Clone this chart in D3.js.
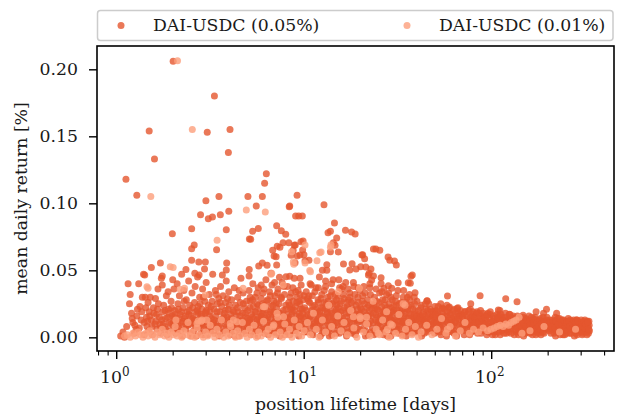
<!DOCTYPE html>
<html><head><meta charset="utf-8">
<script src="https://cdn.jsdelivr.net/npm/d3@7"></script>
<style>body{margin:0;background:#fff}svg{display:block}text{font-family:"DejaVu Serif",serif;fill:#1a1a1a}</style>
</head><body><svg id="c" width="618" height="419"></svg>
<script>
const seriesNames = ["DAI-USDC (0.05%)", "DAI-USDC (0.01%)"];
const yTicks = [0, 0.05, 0.10, 0.15, 0.20];
const xMajorTicks = [1, 10, 100];
const xMinorTicks = [0.8,0.9,2,3,4,5,6,7,8,9,20,30,40,50,60,70,80,90,200,300,400];

// DAI-USDC (0.05%): sparse upper points [lifetime days, mean daily return %]
const darkUpper = [[2.0,.206],[3.32,.180],[1.49,.154],[3.04,.153],[4.02,.155],[1.59,.133],[3.94,.138],[1.12,.118],[1.28,.106],[6.28,.122],[6.15,.115],[5.01,.105],[5.98,.105],[3.51,.105],[2.99,.102],[5.55,.098],[3.96,.094],[3.57,.0915],[2.80,.0915],[3.08,.0885],[3.24,.0898],[8.37,.098],[8.32,.0975],[9.16,.106],[9.0,.0905],[9.35,.0905],[9.77,.0905],[7.13,.0833],[7.55,.0796],[7.97,.0769],[5.69,.0813],[5.31,.0791],[3.84,.0803],[2.51,.081],[1.98,.0773],
[5.18,.0731],[5.1,.0733],[2.59,.0689],[2.51,.0661],[3.41,.0654],[6.79,.0649],[7.18,.068],[7.42,.0672],[7.71,.0706],[8.28,.0706],[8.96,.0689],[9.61,.0713],[8.73,.0649],[9.81,.0651],[6.91,.0607],[7.08,.0602],[8.52,.0612],[9.18,.0607],[1.71,.0555],[1.53,.0522],[2.51,.0575],[2.74,.0562],[2.97,.0562],[2.94,.051],[3.86,.0555],[3.84,.0502],[5.09,.0507],[5.72,.0532],[5.98,.0555],[6.34,.0537],[7.13,.054],[1.41,.0465],[1.75,.0457],[2.34,.0507],[2.61,.0478],[2.75,.0465],[3.66,.0465],[5.08,.0457],[6.65,.0478],[7.38,.0448],[8.0,.0452],[8.37,.0455],[9.5,.044],
[12.75,.099],[14.5,.0853],[13.4,.078],[13.8,.0791],[16.6,.080],[17.9,.0786],[18.7,.0771],[14.9,.0741],[9.86,.0719],[8.85,.0687],[14.3,.0706],[14.6,.0687],[13.8,.0639],[15.2,.0637],[23.4,.0659],[24.1,.0659],[25.3,.0649],[20.3,.0614],[21.0,.0587],[28.0,.0599],[28.6,.0575],[30.3,.0569],[31.0,.054],[16.2,.0547],[18.0,.0549],[17.5,.0502],[18.9,.051],[20.0,.0527],[21.3,.0525],[13.2,.0542],[12.5,.05],[13.2,.05],[8.94,.0557],[10.1,.0572],[10.6,.0575],[9.97,.0617],[9.5,.0614],[37.1,.0455],[22.0,.0465],[23.4,.0457],[20.5,.0617],
[22.7,.051],[22.2,.0478],[22.9,.0428],[25.7,.0445],[28.1,.0385],[26.6,.0366],[29.3,.0366],[31.7,.0407],[37.7,.0465],[35.9,.0407],[36.8,.0403],[39.0,.0333],[45.1,.0271],[58.1,.0308],[77.3,.0251],[86.7,.031],[118.8,.0288],[136.5,.0266],[172.5,.0191],[196,.0209],[189,.0179],[222,.0179],[284,.0129],[324,.0114],[110.5,.0201],[65.5,.0216],[54.6,.0219],[49.9,.0194],[41.3,.0157],[45.3,.0273],[53.5,.0251],[59.5,.0226],[108.5,.0204],[124,.0172],[147,.0164]];

// DAI-USDC (0.05%): dense band, short lifetimes (1 - 5 days)
const darkBandShort = [[1.05,.001],[1.08,.004],[1.1,.0],[1.13,.008],[1.15,.04],[1.17,.025],[1.18,.032],[1.2,.018],[1.22,.011],[1.24,.003],[1.27,.006],[1.29,.021],[1.31,.04],[1.33,.023],[1.35,.013],[1.37,.03],[1.39,.047],[1.4,.002],[1.42,.030],[1.44,.015],[1.45,.008],[1.47,.026],[1.48,.005],[1.49,.019],
[1.51,.030],[1.53,.013],[1.55,.002],[1.57,.022],[1.6,.010],[1.61,.029],[1.63,.017],[1.64,.006],[1.66,.036],[1.67,.025],[1.7,.010],[1.72,.003],[1.73,.044],[1.75,.039],[1.76,.019],[1.78,.024],[1.8,.008],[1.82,.014],[1.84,.031],[1.86,.002],[1.88,.034],[1.89,.021],[1.91,.011],[1.93,.005],[1.95,.027],[1.97,.016],[1.99,.043],[2.0,.009],[2.02,.036],[2.04,.02],[2.06,.003],[2.08,.013],[2.1,.040],[2.12,.025],[2.14,.007],[2.16,.031],[2.18,.017],[2.2,.011],[2.22,.047],[2.24,.001],[2.26,.022],[2.28,.035],[2.3,.014],[2.33,.006],[2.35,.028],[2.37,.019],[2.4,.009],[2.42,.042],[2.45,.024],[2.47,.003],
[2.5,.016],[2.52,.033],[2.55,.011],[2.57,.005],[2.6,.026],[2.62,.038],[2.64,.019],[2.66,.001],[2.68,.013],[2.7,.045],[2.72,.023],[2.75,.008],[2.77,.030],[2.8,.016],[2.82,.003],[2.85,.021],[2.87,.036],[2.9,.011],[2.92,.006],[2.95,.027],[2.97,.018],[3.0,.041],[3.02,.013],[3.05,.002],[3.08,.024],[3.1,.009],[3.12,.032],[3.15,.019],[3.18,.005],[3.2,.014],[3.23,.027],[3.25,.047],[3.28,.011],[3.3,.021],[3.33,.003],[3.36,.035],[3.38,.016],[3.41,.008],[3.44,.025],[3.47,.012],[3.5,.029],[3.52,.001],[3.55,.019],[3.58,.038],[3.6,.007],[3.63,.023],[3.66,.014],[3.69,.031],[3.72,.004],[3.75,.018],[3.78,.010],[3.81,.026],[3.84,.042],[3.87,.015],[3.9,.006],[3.93,.021],[3.96,.034],[4.0,.011],[4.03,.002],[4.06,.017],[4.1,.028],[4.13,.008],[4.16,.020],[4.2,.013],[4.24,.037],[4.27,.004],[4.3,.024],[4.34,.016],[4.38,.009],[4.42,.030],[4.45,.019],[4.49,.001],[4.52,.012],[4.56,.026],[4.6,.044],[4.64,.007],[4.68,.018],[4.72,.033],[4.76,.011],[4.8,.022],[4.84,.003],[4.88,.015],[4.92,.027],[4.96,.009]];

// DAI-USDC (0.05%): dense band, 5 - 20 days
const darkBandMid = [[5.0,.020],[5.04,.006],[5.08,.035],[5.12,.013],[5.16,.027],[5.2,.002],[5.24,.017],[5.28,.009],[5.32,.040],[5.36,.023],[5.4,.014],[5.44,.004],[5.48,.030],[5.52,.019],[5.56,.010],[5.6,.025],[5.64,.001],[5.68,.037],[5.72,.015],[5.76,.007],[5.8,.021],[5.85,.012],[5.9,.029],[5.94,.004],[5.98,.018],[6.02,.033],[6.07,.010],[6.11,.024],[6.16,.015],[6.2,.006],[6.25,.043],[6.3,.020],[6.34,.012],[6.39,.028],[6.44,.002],[6.48,.017],[6.53,.034],[6.58,.008],[6.63,.023],[6.68,.014],[6.73,.039],[6.78,.005],[6.83,.019],[6.88,.027],[6.93,.011],[6.98,.031],[7.03,.003],[7.08,.016],[7.13,.022],[7.18,.008],[7.24,.036],[7.29,.013],[7.34,.025],[7.4,.001],[7.45,.018],[7.51,.010],[7.56,.029],[7.62,.041],[7.67,.006],[7.73,.020],[7.79,.014],[7.85,.032],[7.91,.004],[7.97,.024],[8.03,.011],[8.09,.017],[8.15,.038],[8.21,.007],[8.27,.026],[8.33,.015],[8.4,.002],[8.46,.021],[8.52,.033],[8.59,.009],[8.65,.019],[8.72,.027],[8.79,.013],[8.85,.044],[8.92,.005],[8.99,.023],[9.06,.016],[9.13,.030],[9.2,.010],[9.27,.035],[9.34,.001],[9.41,.018],[9.48,.025],[9.55,.012],[9.63,.039],[9.7,.007],[9.77,.021],[9.85,.028],[9.92,.014],[9.98,.004],
[5.1,.011],[5.5,.008],[5.9,.016],[6.4,.009],[6.9,.019],[7.5,.005],[8.0,.013],[8.6,.022],[9.1,.008],[9.6,.016],[5.3,.028],[6.0,.025],[7.0,.012],[8.3,.01],[9.4,.027],
[10.05,.022],[10.15,.010],[10.25,.034],[10.35,.004],[10.45,.017],[10.55,.027],[10.65,.013],[10.75,.040],[10.85,.008],[10.95,.020],[11.05,.031],[11.15,.002],[11.25,.015],[11.35,.024],[11.45,.011],[11.55,.037],[11.65,.006],[11.75,.019],[11.85,.028],[11.95,.014],[12.05,.045],[12.15,.009],[12.3,.022],[12.4,.032],[12.5,.003],[12.6,.016],[12.75,.026],[12.85,.012],[13.0,.038],[13.1,.007],[13.2,.020],[13.35,.030],[13.45,.015],[13.6,.001],[13.7,.024],[13.85,.011],[14.0,.034],[14.1,.018],[14.25,.043],[14.4,.006],[14.5,.027],[14.65,.014],[14.8,.021],[14.95,.009],[15.1,.031],[15.25,.017],[15.4,.003],[15.55,.025],[15.7,.012],[15.85,.036],[16.0,.020],[16.15,.007],[16.3,.029],[16.5,.015],[16.65,.041],[16.8,.010],[17.0,.023],[17.15,.004],[17.3,.018],[17.5,.033],[17.65,.013],[17.85,.026],[18.0,.008],[18.2,.020],[18.4,.038],[18.55,.014],[18.75,.002],[18.95,.024],[19.15,.011],[19.35,.030],[19.55,.017],[19.75,.006],[19.95,.022],
[10.2,.015],[10.7,.026],[11.2,.008],[11.8,.012],[12.2,.017],[12.9,.021],[13.5,.009],[14.2,.012],[14.9,.024],[15.6,.006],[16.4,.011],[17.2,.028],[18.1,.016],[19.0,.013],[19.8,.035],[10.4,.029],[11.6,.021],[13.3,.004],[15.0,.018],[17.8,.005]];

// DAI-USDC (0.05%): dense band, 20 - 100 days
const darkBandLong = [[20.1,.014],[20.4,.027],[20.6,.006],[20.9,.019],[21.1,.033],[21.4,.010],[21.6,.022],[21.9,.002],[22.1,.016],[22.4,.037],[22.6,.012],[22.9,.025],[23.1,.007],[23.4,.018],[23.7,.030],[24.0,.013],[24.2,.003],[24.5,.021],[24.8,.009],[25.1,.026],[25.4,.016],[25.7,.040],[26.0,.005],[26.3,.019],[26.6,.011],[26.9,.024],[27.2,.014],[27.5,.032],[27.8,.001],[28.2,.017],[28.5,.008],[28.8,.022],[29.1,.013],[29.5,.028],[29.8,.004],[30.2,.018],[30.5,.010],[30.9,.024],[31.2,.015],[31.6,.035],[32.0,.006],[32.3,.020],[32.7,.012],[33.1,.026],[33.5,.002],[33.9,.016],[34.3,.009],[34.7,.021],[35.1,.014],[35.5,.030],[35.9,.005],[36.3,.018],[36.8,.011],[37.2,.024],[37.6,.003],[38.1,.015],[38.5,.008],[39.0,.020],[39.4,.013],[39.9,.027],[40.4,.006],[40.9,.017],[41.3,.010],[41.8,.022],[42.3,.001],[42.8,.014],[43.3,.019],[43.8,.008],[44.3,.025],[44.8,.012],[45.4,.004],[45.9,.017],[46.4,.010],[47.0,.021],[47.5,.015],[48.1,.006],[48.6,.019],[49.2,.011],[49.8,.023],
[20.5,.011],[21.7,.016],[22.8,.004],[23.9,.022],[25.0,.012],[26.2,.028],[27.4,.007],[28.7,.016],[30.0,.020],[31.4,.009],[32.9,.018],[34.5,.004],[36.0,.023],[37.8,.012],[39.6,.005],[41.5,.015],[43.5,.012],[45.6,.020],[47.8,.009],[49.5,.015],[22.0,.024],[24.6,.015],[27.0,.020],[29.6,.012],[33.3,.011],[38.7,.017],[44.0,.016],
[50.4,.012],[51.0,.005],[51.6,.018],[52.3,.009],[52.9,.015],[53.6,.002],[54.2,.021],[54.9,.011],[55.6,.006],[56.3,.016],[57.0,.013],[57.7,.024],[58.4,.004],[59.1,.010],[59.9,.018],[60.6,.007],[61.4,.014],[62.1,.020],[62.9,.003],[63.7,.011],[64.5,.016],[65.3,.008],[66.1,.022],[67.0,.013],[67.8,.005],[68.7,.017],[69.5,.010],[70.4,.014],[71.3,.002],[72.2,.019],[73.1,.009],[74.0,.015],[75.0,.006],[75.9,.012],[76.9,.021],[77.9,.004],[78.8,.016],[79.8,.010],[80.9,.013],[81.9,.007],[82.9,.018],[84.0,.003],[85.0,.014],[86.1,.009],[87.2,.020],[88.3,.012],[89.4,.005],[90.6,.016],[91.7,.010],[92.9,.013],[94.1,.002],[95.3,.018],[96.5,.008],[97.7,.014],[99.0,.011],
[50.7,.020],[53.0,.008],[55.2,.014],[57.4,.001],[60.0,.013],[62.5,.009],[65.0,.019],[67.5,.016],[70.0,.007],[73.5,.012],[76.5,.009],[80.0,.017],[83.5,.011],[87.0,.006],[90.0,.011],[93.5,.016],[97.0,.004],[52.0,.013],[58.0,.019],[64.0,.005],[71.0,.011],[78.0,.013],[85.5,.018],[92.0,.007],[98.5,.017]];

// DAI-USDC (0.05%): dense band, 100 - 330 days
const darkBandVeryLong = [[100.5,.009],[102,.014],[103.5,.004],[105,.011],[106.5,.017],[108,.007],[109.5,.013],[111,.002],[112.5,.010],[114,.015],[115.5,.006],[117,.012],[118.5,.018],[120,.003],[122,.009],[124,.014],[126,.006],[128,.011],[130,.016],[132,.002],[134,.008],[136,.013],[138,.005],[140,.010],[142,.015],[144,.007],[146,.012],[148,.001],[150,.009],[152,.014],[154,.005],[156,.011],[158,.016],[160,.003],[162,.008],[164,.013],[166,.006],[168,.011],[170,.015],[172,.002],[174,.009],[176,.012],[178,.005],[180,.010],[182,.014],[184,.007],[187,.011],[190,.003],[193,.009],[196,.013],[199,.006],
[101,.002],[104,.008],[107,.012],[110,.016],[113,.005],[116,.009],[119,.013],[123,.004],[127,.015],[131,.010],[135,.004],[139,.014],[143,.003],[147,.008],[151,.012],[155,.007],[159,.010],[163,.004],[167,.014],[171,.008],[175,.004],[179,.012],[183,.002],[188,.015],[192,.006],[197,.010],
[201,.008],[204,.013],[207,.003],[210,.010],[213,.006],[216,.012],[219,.001],[222,.009],[225,.014],[228,.004],[231,.011],[234,.007],[237,.013],[240,.002],[243,.009],[246,.005],[249,.012],[252,.008],[256,.014],[260,.003],[264,.010],[268,.006],[272,.012],[276,.001],[280,.009],[284,.013],[288,.005],[292,.011],[296,.007],[300,.013],[304,.002],[308,.009],[312,.005],[316,.011],[320,.007],[324,.012],[328,.003],[331,.009],
[202,.011],[208,.006],[214,.009],[220,.004],[226,.007],[232,.002],[238,.010],[244,.012],[250,.003],[258,.007],[266,.011],[274,.005],[282,.003],[290,.008],[298,.010],[306,.006],[314,.013],[322,.004],[330,.012],[218,.015],[262,.013],[302,.004],[326,.008],[332,.005]];

// DAI-USDC (0.05%): extra fill of the dense band, 2 - 10 days
const darkFillA = [[2.03,.015],[2.09,.006],[2.13,.021],[2.19,.004],[2.25,.012],[2.29,.027],[2.36,.009],[2.43,.017],[2.49,.001],[2.54,.022],[2.59,.013],[2.65,.007],[2.71,.018],[2.78,.025],[2.84,.010],[2.89,.002],[2.96,.014],[3.01,.020],[3.07,.006],[3.13,.016],[3.19,.023],[3.26,.009],[3.31,.013],[3.37,.004],[3.43,.019],[3.49,.008],[3.56,.026],[3.62,.012],[3.68,.003],[3.74,.015],[3.8,.020],[3.86,.008],[3.92,.013],[3.98,.024],[4.04,.005],[4.11,.014],[4.17,.010],[4.22,.019],[4.28,.001],[4.35,.012],[4.41,.022],[4.47,.007],[4.54,.016],[4.61,.003],[4.67,.013],[4.73,.025],[4.79,.008],[4.86,.018],[4.93,.005],[4.99,.014],
[5.06,.010],[5.14,.022],[5.22,.005],[5.3,.015],[5.38,.008],[5.46,.019],[5.54,.003],[5.62,.013],[5.7,.024],[5.78,.011],[5.87,.016],[5.96,.006],[6.05,.020],[6.13,.003],[6.22,.013],[6.32,.027],[6.41,.015],[6.5,.005],[6.6,.019],[6.7,.010],[6.8,.024],[6.9,.004],[7.0,.016],[7.1,.026],[7.21,.007],[7.32,.018],[7.42,.012],[7.53,.030],[7.64,.009],[7.75,.016],[7.86,.002],[7.98,.021],[8.1,.007],[8.22,.014],[8.35,.024],[8.47,.011],[8.6,.017],[8.73,.005],[8.86,.020],[8.99,.012],[9.13,.026],[9.26,.006],[9.4,.015],[9.54,.021],[9.68,.010],[9.83,.018],[9.95,.031],
[5.15,.030],[5.6,.033],[6.1,.036],[6.6,.031],[7.2,.033],[7.8,.038],[8.4,.030],[9.0,.034],[9.5,.032],[4.5,.035],[3.9,.029],[3.4,.032],[2.9,.030],[5.9,.039],[6.95,.041],[8.7,.037]];

// DAI-USDC (0.05%): extra fill of the dense band, 10 - 40 days
const darkFillB = [[10.1,.006],[10.3,.020],[10.5,.012],[10.6,.031],[10.8,.016],[11.0,.003],[11.1,.023],[11.3,.010],[11.4,.034],[11.5,.018],[11.7,.013],[11.9,.026],[12.0,.007],[12.1,.019],[12.3,.029],[12.45,.011],[12.55,.022],[12.7,.005],[12.8,.035],[12.95,.015],[13.05,.025],[13.15,.012],[13.3,.018],[13.4,.027],[13.55,.006],[13.65,.016],[13.8,.031],[13.9,.020],[14.05,.002],[14.15,.025],[14.3,.015],[14.45,.009],[14.6,.032],[14.7,.019],[14.85,.028],[15.0,.011],[15.15,.022],[15.3,.014],[15.45,.037],[15.6,.019],[15.75,.027],[15.9,.008],[16.05,.014],[16.2,.032],[16.35,.022],[16.55,.004],[16.7,.018],[16.9,.026],[17.05,.012],[17.25,.021],[17.4,.008],[17.55,.030],[17.75,.017],[17.9,.022],[18.05,.003],[18.25,.027],[18.45,.012],[18.65,.032],[18.85,.017],[19.05,.007],[19.25,.021],[19.45,.026],[19.65,.012],[19.85,.018],
[20.2,.021],[20.5,.031],[20.75,.013],[21.0,.025],[21.25,.005],[21.5,.017],[21.8,.028],[22.05,.010],[22.3,.020],[22.55,.032],[22.75,.016],[23.0,.021],[23.25,.011],[23.55,.024],[23.8,.005],[24.1,.017],[24.35,.027],[24.65,.010],[24.95,.020],[25.25,.033],[25.55,.008],[25.85,.023],[26.1,.015],[26.45,.002],[26.75,.018],[27.05,.028],[27.35,.012],[27.65,.022],[27.95,.009],[28.35,.025],[28.65,.014],[28.95,.030],[29.3,.019],[29.65,.007],[29.95,.023],[30.35,.013],[30.7,.027],[31.05,.006],[31.4,.020],[31.8,.012],[32.15,.025],[32.5,.016],[32.85,.008],[33.3,.021],[33.7,.030],[34.1,.012],[34.5,.018],[34.9,.026],[35.3,.007],[35.7,.021],[36.1,.014],[36.55,.028],[37.0,.017],[37.4,.009],[37.9,.021],[38.3,.013],[38.8,.025],[39.2,.004],[39.7,.016],
[10.9,.039],[11.9,.037],[13.0,.042],[14.0,.040],[15.3,.043],[16.1,.038],[17.1,.036],[18.3,.041],[19.4,.037],[20.8,.038],[22.4,.040],[24.2,.036],[26.0,.034],[28.2,.033],[31.0,.031],[33.9,.035],[36.4,.032],[38.6,.030],
[12.2,.001],[14.8,.003],[16.8,.001],[18.9,.004],[21.2,.001],[23.6,.002],[26.6,.006],[29.0,.001],[31.9,.003],[35.0,.001],[38.0,.005]];

// DAI-USDC (0.05%): extra fill of the dense band, 40 - 330 days
const darkFillC = [[40.2,.011],[40.7,.020],[41.1,.004],[41.6,.014],[42.1,.024],[42.6,.009],[43.1,.017],[43.6,.003],[44.1,.012],[44.6,.021],[45.1,.007],[45.7,.015],[46.2,.025],[46.7,.005],[47.3,.013],[47.8,.019],[48.4,.010],[48.9,.016],[49.5,.003],[50.1,.017],[50.9,.010],[51.8,.023],[52.6,.004],[53.4,.016],[54.0,.012],[54.6,.018],[55.4,.008],[56.0,.021],[56.8,.003],[57.6,.016],[58.2,.011],[59.0,.022],[59.6,.005],[60.4,.017],[61.0,.011],[61.8,.004],[62.6,.015],[63.2,.021],[64.2,.012],[65.0,.001],[65.8,.014],[66.6,.018],[67.4,.009],[68.2,.020],[69.0,.006],[69.9,.016],[70.8,.011],[71.8,.019],[72.6,.005],[73.6,.017],[74.5,.010],[75.5,.020],[76.3,.002],[77.2,.015],[78.3,.008],[79.3,.019],[80.4,.005],[81.4,.015],[82.4,.011],[83.4,.019],[84.5,.007],[85.6,.012],[86.6,.016],[87.7,.003],[88.8,.014],[89.9,.018],[91.1,.006],[92.3,.015],[93.4,.010],[94.7,.017],[95.9,.004],[97.1,.011],[98.3,.019],[99.6,.007],
[101.5,.012],[103,.016],[104.5,.002],[106,.009],[107.5,.015],[109,.004],[110.5,.011],[112,.017],[113.5,.008],[115,.013],[116.5,.003],[118,.010],[119.5,.015],[121,.006],[123,.012],[125,.017],[127,.003],[129,.008],[131,.014],[133,.006],[135,.011],[137,.016],[139,.002],[141,.008],[143,.012],[145,.005],[147,.015],[149,.010],[151,.003],[153,.008],[155,.013],[157,.004],[159,.012],[161,.009],[163,.015],[165,.002],[167,.009],[169,.005],[171,.013],[173,.007],[175,.011],[177,.003],[179,.008],[181,.013],[183,.006],[185,.010],[188,.004],[191,.012],[194,.007],[197,.015],
[203,.005],[206,.011],[209,.008],[212,.013],[215,.003],[218,.007],[221,.012],[224,.005],[227,.010],[230,.014],[233,.004],[236,.009],[239,.006],[242,.013],[245,.002],[248,.008],[251,.011],[254,.005],[258,.012],[262,.008],[266,.003],[270,.010],[274,.013],[278,.007],[282,.011],[286,.002],[290,.012],[294,.005],[298,.008],[302,.011],[306,.003],[310,.012],[314,.007],[318,.010],[322,.002],[326,.011],[329,.006]];

// DAI-USDC (0.05%): extra fill of the dense band, 1.2 - 3 days
const darkFillD = [[1.21,.014],[1.25,.009],[1.28,.016],[1.32,.007],[1.36,.019],[1.4,.011],[1.43,.022],[1.46,.012],[1.5,.016],[1.54,.008],[1.58,.018],[1.62,.012],[1.65,.021],[1.69,.015],[1.71,.007],[1.74,.013],[1.77,.010],[1.81,.020],[1.83,.006],[1.87,.015],[1.9,.018],[1.94,.010],[1.96,.022],[2.01,.012],[2.05,.017],[2.11,.010],[2.15,.014],[2.21,.019],[2.27,.008],[2.32,.016],[2.38,.012],[2.44,.020],[2.48,.010],[2.56,.014],[2.63,.009],[2.69,.020],[2.76,.012],[2.83,.017],[2.93,.009],[2.99,.019]];

// DAI-USDC (0.01%): sparse upper points
const lightUpper = [[2.11,.2064],[2.53,.155],[1.52,.105],[4.91,.095],[6.2,.0935],[3.43,.0724],[1.93,.0527],[2.0,.0522],[8.56,.0639],[10.1,.0689],[13.9,.069],[13.8,.0672],[12.3,.0637],[12.1,.0631],[11.7,.0572],[10.7,.0498],[8.8,.0545],[10.1,.0555],[6.71,.0478],[8.75,.0564],[7.74,.039],[6.05,.0228],[2.18,.0358],[1.45,.0378],[1.47,.0366],[2.3,.0366],[2.97,.0316],[4.72,.0366],[6.65,.047],[10.8,.049],[6.15,.0228],[15.2,.034],[19.7,.0366],[33.7,.025],[34.5,.024],[27.5,.019],[18.3,.0154],[19.8,.0154],[21.5,.015]];

// DAI-USDC (0.01%): low returns
const lightLow = [[1.1,.001],[1.14,.002],[1.18,.000],[1.22,.003],[1.26,.001],[1.3,.004],[1.34,.002],[1.38,.000],[1.43,.003],[1.47,.001],[1.5,.005],[1.55,.002],[1.6,.000],[1.65,.004],[1.7,.002],[1.75,.006],[1.8,.001],[1.85,.003],[1.9,.000],[1.95,.004],[2.0,.002],[2.05,.008],[2.1,.001],[2.16,.003],[2.22,.000],[2.28,.005],[2.34,.002],[2.4,.011],[2.46,.001],[2.52,.004],[2.6,.000],[2.68,.007],[2.75,.002],[2.82,.012],[2.9,.000],[2.98,.004],[3.06,.001],[3.15,.009],[3.24,.003],[3.33,.000],[3.42,.006],[3.52,.002],[3.62,.013],[3.72,.000],[3.82,.004],[3.93,.001],[4.05,.008],[4.17,.003],[4.3,.000],[4.42,.005],[4.55,.001],[4.68,.011],[4.82,.003],[4.96,.000],[5.1,.006],[5.25,.002],[5.4,.009],[5.56,.000],[5.72,.004],[5.9,.001],[6.07,.012],[6.25,.003],[6.43,.006],[6.62,.000],[6.82,.008],[7.02,.002],[7.23,.015],[7.44,.004],[7.66,.000],[7.88,.010],[8.1,.002],[8.35,.006],[8.6,.000],[8.85,.013],[9.1,.003],[9.4,.008],[9.7,.001],[10.0,.005],
[2.07,.0129],[2.68,.0104],[2.85,.0129],[2.72,.0122],[3.02,.0129],[4.03,.0104],[4.19,.0129],[4.38,.0116],[7.16,.0179],[7.76,.0154],[6.88,.0092],
[10.4,.011],[10.8,.002],[11.2,.018],[11.6,.006],[12.0,.000],[12.5,.013],[13.0,.004],[13.5,.024],[14.0,.008],[14.5,.001],[15.1,.016],[15.7,.005],[16.3,.011],[17.0,.002],[17.7,.020],[18.4,.007],[19.1,.000],[19.9,.014],[20.7,.004],[21.5,.010],[22.4,.001],[23.3,.027],[24.2,.006],[25.2,.002],[26.2,.013],[27.3,.004],[28.4,.000],[29.5,.009],[30.7,.003],[32.0,.017],[33.3,.001],[34.7,.006],[36.1,.011],[37.6,.002],[39.1,.008],[40.7,.000],[27.8,.006],[28.9,.010],[24.8,.003],
[42,.004],[45,.009],[48,.002],[51,.006],[54,.014],[57,.003],[58,.006],[60,.008],[64,.001],[68,.005],[72,.011],[76,.003],[80,.006],[85,.004],[90,.007],[95,.005],[99,.006],[103,.007],[107,.008],[111,.009],[115,.008],[119,.010],[123,.009],[127,.011],[131,.012],[135,.013],[140,.015],[145,.003],[160,.005],[190,.008],[230,.004],[280,.006]];

const dark = [].concat(darkUpper, darkBandShort, darkBandMid, darkBandLong, darkBandVeryLong, darkFillA, darkFillB, darkFillC, darkFillD);
const light = [].concat(lightUpper, lightLow);
const colors = ["#e5562e", "#fc9f7c"];

const svg = d3.select("#c");
const L = 97, T = 46, R = 614, B = 351;
const x = d3.scaleLog().domain([0.785, 449]).range([L, R]);
const y = d3.scaleLinear().domain([-0.0102, 0.2174]).range([B, T]);
const fs = 17.3;
const rad = 3.5;

// points
const g = svg.append("g");
[[dark, colors[0]], [light, colors[1]]].forEach(([data, col]) => {
  g.append("g").selectAll("circle").data(data).join("circle")
    .attr("cx", d => x(d[0])).attr("cy", d => y(d[1])).attr("r", rad)
    .attr("fill", col).attr("fill-opacity", 0.8);
});

// frame
svg.append("rect").attr("x", L).attr("y", T).attr("width", R - L).attr("height", B - T)
  .attr("fill", "none").attr("stroke", "#000").attr("stroke-width", 1.6);

// y axis
const yAxis = d3.axisLeft(y).tickValues(yTicks).tickFormat(d3.format(".2f")).tickSize(8).tickPadding(11);
const ya = svg.append("g").attr("transform", `translate(${L},0)`).call(yAxis);
ya.select(".domain").remove();
ya.selectAll("line").attr("stroke", "#000").attr("stroke-width", 1.4);
ya.selectAll("text").style("font-family", "DejaVu Serif").style("font-size", fs + "px").attr("fill", "#1a1a1a");

// x axis: major & minor
const xa = svg.append("g").attr("transform", `translate(0,${B})`);
xa.selectAll("line.maj").data(xMajorTicks).join("line").attr("class", "maj")
  .attr("x1", d => x(d)).attr("x2", d => x(d)).attr("y1", 0).attr("y2", 8)
  .attr("stroke", "#000").attr("stroke-width", 1.4);
xa.selectAll("line.min").data(xMinorTicks).join("line").attr("class", "min")
  .attr("x1", d => x(d)).attr("x2", d => x(d)).attr("y1", 0).attr("y2", 4.5)
  .attr("stroke", "#000").attr("stroke-width", 1.1);
const xl = xa.selectAll("text.xl").data(xMajorTicks).join("text").attr("class", "xl")
  .attr("x", d => x(d) - 2).attr("y", 32).attr("text-anchor", "middle")
  .style("font-size", fs + "px");
xl.append("tspan").text("10");
xl.append("tspan").attr("dy", -7).style("font-size", "12px").text(d => String(Math.round(Math.log10(d))));

// axis labels
svg.append("text").attr("x", (L + R) / 2).attr("y", 410).attr("text-anchor", "middle")
  .style("font-size", fs + "px").text("position lifetime [days]");
svg.append("text").attr("transform", `translate(27,${(T + B) / 2}) rotate(-90)`).attr("text-anchor", "middle")
  .style("font-size", fs + "px").text("mean daily return [%]");

// legend
const lg = svg.append("g");
lg.append("rect").attr("x", 97.5).attr("y", 10.5).attr("width", 515.5).attr("height", 30).attr("rx", 3)
  .attr("fill", "#fff").attr("fill-opacity", 0.8).attr("stroke", "#cccccc").attr("stroke-width", 1.5);
const lx = [121, 407];
seriesNames.forEach((n, i) => {
  lg.append("circle").attr("cx", lx[i]).attr("cy", 25.5).attr("r", rad).attr("fill", colors[i]).attr("fill-opacity", 0.8);
  lg.append("text").attr("x", lx[i] + 32).attr("y", 31).style("font-size", fs + "px").text(n);
});
</script></body></html>
